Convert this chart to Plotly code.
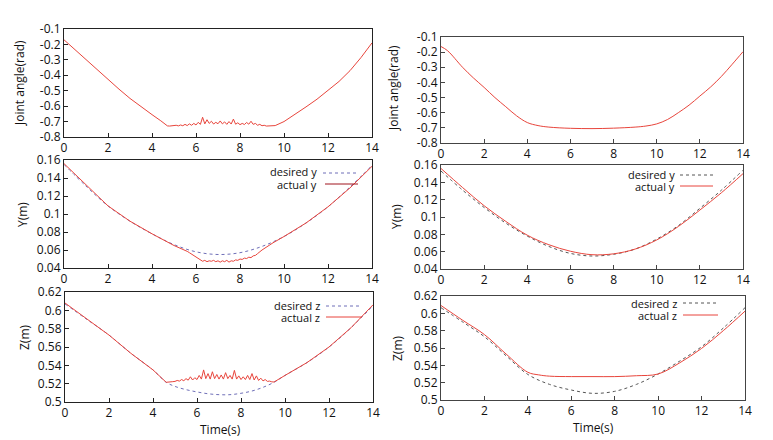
import plotly.graph_objects as go

# ---------------- data ----------------
# Left column (with vibration)
tL_ang = [0, 0.5, 1, 1.5, 2, 2.5, 3, 3.5, 4, 4.4, 4.7,
          4.8, 4.9, 5.0, 5.1, 5.2, 5.3, 5.4, 5.5, 5.6, 5.7, 5.8, 5.9, 6.0, 6.1, 6.2, 6.3, 6.4, 6.5,
          6.6, 6.7, 6.8, 6.9, 7.0, 7.1, 7.2, 7.3, 7.4, 7.5, 7.6, 7.7, 7.8, 7.9, 8.0, 8.1, 8.2,
          8.3, 8.4, 8.5, 8.6, 8.7, 8.8, 8.9, 9.0, 9.1, 9.2, 9.3, 9.4,
          9.6, 10, 10.5, 11, 11.5, 12, 12.5, 13, 13.5, 14]
L_ang = [-0.17, -0.235, -0.30, -0.365, -0.43, -0.49, -0.55, -0.605, -0.655, -0.695, -0.728,
         -0.729, -0.728, -0.729, -0.724, -0.728, -0.722, -0.727, -0.718, -0.726, -0.715, -0.724,
         -0.712, -0.722, -0.705, -0.718, -0.672, -0.715, -0.688, -0.712, -0.698, -0.716, -0.705,
         -0.714, -0.696, -0.715, -0.702, -0.718, -0.700, -0.716, -0.684, -0.717, -0.708, -0.720,
         -0.712, -0.719, -0.706, -0.717, -0.698, -0.718, -0.712, -0.724, -0.718, -0.727, -0.724,
         -0.729, -0.728, -0.729,
         -0.726, -0.70, -0.655, -0.605, -0.555, -0.50, -0.44, -0.37, -0.285, -0.19]

tL_ydes = [0, 1, 2, 3, 4, 5, 6, 7, 8, 9, 10, 11, 12, 13, 14]
L_ydes = [0.155, 0.131, 0.109, 0.092, 0.078, 0.066, 0.058, 0.055, 0.057, 0.064, 0.075, 0.090, 0.108, 0.130, 0.154]

tL_yact = [0, 1, 2, 3, 4, 5, 5.5,
           5.6, 5.7, 5.8, 5.9, 6.0, 6.1, 6.2, 6.3, 6.4, 6.5, 6.6, 6.7, 6.8, 6.9, 7.0, 7.1, 7.2,
           7.3, 7.4, 7.5, 7.6, 7.7, 7.8, 7.9, 8.0, 8.1, 8.2, 8.3, 8.4, 8.5, 8.6, 8.7, 8.8,
           9.0, 9.5, 10, 11, 12, 13, 14]
L_yact = [0.156, 0.132, 0.109, 0.092, 0.078, 0.065, 0.060,
          0.0585, 0.057, 0.0555, 0.054, 0.052, 0.0505, 0.049, 0.0475, 0.0485, 0.047, 0.048,
          0.0475, 0.0485, 0.047, 0.048, 0.0465, 0.048, 0.047, 0.0485, 0.0465, 0.048, 0.0475,
          0.049, 0.0485, 0.050, 0.0495, 0.051, 0.0505, 0.052, 0.0515, 0.0535, 0.054, 0.056,
          0.060, 0.068, 0.075, 0.090, 0.108, 0.129, 0.153]

tL_zdes = [0, 1, 2, 3, 4, 4.6, 5, 5.5, 6, 6.5, 7, 7.5, 8, 8.5, 9, 9.5, 10, 11, 12, 13, 14]
L_zdes = [0.607, 0.590, 0.573, 0.553, 0.535, 0.5215, 0.517, 0.5135, 0.511, 0.509, 0.508,
          0.508, 0.5095, 0.512, 0.516, 0.5215, 0.529, 0.543, 0.560, 0.581, 0.605]

tL_zact = [0, 1, 2, 3, 4, 4.6,
           4.7, 4.8, 4.9, 5.0, 5.1, 5.2, 5.3, 5.4, 5.5, 5.6, 5.7, 5.8, 5.9, 6.0, 6.1, 6.2, 6.3,
           6.4, 6.5, 6.6, 6.7, 6.8, 6.9, 7.0, 7.1, 7.2, 7.3, 7.4, 7.5, 7.6, 7.7, 7.8, 7.9, 8.0,
           8.1, 8.2, 8.3, 8.4, 8.5, 8.6, 8.7, 8.8, 8.9, 9.0, 9.1, 9.2, 9.3, 9.4,
           9.5, 10, 11, 12, 13, 14]
L_zact = [0.608, 0.590, 0.573, 0.553, 0.535, 0.5215,
          0.5215, 0.5218, 0.5222, 0.5225, 0.5235, 0.5228, 0.5245, 0.5232, 0.5255, 0.5238,
          0.5275, 0.5240, 0.5265, 0.5245, 0.5290, 0.5250, 0.5350, 0.5255, 0.5310, 0.5250,
          0.5330, 0.5255, 0.5300, 0.5250, 0.5295, 0.5250, 0.5320, 0.5255, 0.5290, 0.5250,
          0.5345, 0.5250, 0.5285, 0.5245, 0.5275, 0.5245, 0.5290, 0.5245, 0.5310, 0.5240,
          0.5285, 0.5235, 0.5260, 0.5230, 0.5245, 0.5225, 0.5228, 0.5220,
          0.5218, 0.529, 0.543, 0.560, 0.581, 0.606]

# Right column (smoothed)
tR_ang = [0, 0.3, 1, 1.5, 2, 2.5, 3, 3.5, 4, 4.5, 5, 6, 7, 8, 9, 9.5, 10, 10.5, 11, 11.5,
          12, 12.5, 13, 13.5, 14]
R_ang = [-0.163, -0.19, -0.30, -0.37, -0.433, -0.50, -0.56, -0.62, -0.665, -0.685, -0.695,
         -0.703, -0.705, -0.702, -0.695, -0.688, -0.674, -0.645, -0.60, -0.55, -0.49, -0.43,
         -0.36, -0.28, -0.197]

tR = [0, 1, 2, 3, 4, 5, 6, 7, 8, 9, 10, 11, 12, 13, 14]
R_ydes = [0.153, 0.131, 0.111, 0.093, 0.078, 0.066, 0.058, 0.055, 0.057, 0.063, 0.0745, 0.090, 0.110, 0.131, 0.154]
R_yact = [0.156, 0.134, 0.113, 0.095, 0.079, 0.068, 0.0605, 0.0565, 0.0575, 0.063, 0.0735, 0.089, 0.108, 0.128, 0.150]

R_zdes = [0.6065, 0.590, 0.573, 0.551, 0.5295, 0.518, 0.5115, 0.5077, 0.510, 0.518, 0.530, 0.545, 0.5615, 0.583, 0.6065]
tR_zact = [0, 1, 2, 3, 4, 4.5, 5, 6, 7, 8, 9, 10, 11, 12, 13, 14]
R_zact = [0.609, 0.592, 0.5755, 0.553, 0.532, 0.529, 0.5275, 0.527, 0.527, 0.527, 0.528, 0.530, 0.543, 0.5595, 0.580, 0.6025]

# ticks
x_ticks = [0, 2, 4, 6, 8, 10, 12, 14]
ang_ticks = [-0.8, -0.7, -0.6, -0.5, -0.4, -0.3, -0.2, -0.1]
ang_labels = ["-0.8", "-0.7", "-0.6", "-0.5", "-0.4", "-0.3", "-0.2", "-0.1"]
y_ticks = [0.04, 0.06, 0.08, 0.1, 0.12, 0.14, 0.16]
y_labels = ["0.04", "0.06", "0.08", "0.1", "0.12", "0.14", "0.16"]
z_ticks = [0.5, 0.52, 0.54, 0.56, 0.58, 0.6, 0.62]
z_labels = ["0.5", "0.52", "0.54", "0.56", "0.58", "0.6", "0.62"]

# ---------------- figure ----------------
W, H = 773, 440
RED = "#e8453c"
DARKRED = "#a0141e"
BLUEDASH = "#6f6fb8"
GRAYDOT = "#555555"
FONT = "Open Sans"

def px(x):
    return x / W

def py(y):
    return 1 - y / H

fig = go.Figure()

def line(x, y, ax, color, dash="solid", width=1.0, shape="linear"):
    fig.add_trace(go.Scatter(x=x, y=y, mode="lines", xaxis="x" + ax, yaxis="y" + ax,
                             line=dict(color=color, width=width, dash=dash, shape=shape),
                             showlegend=False, hoverinfo="skip"))

line(tL_ang, L_ang, "", RED)
line(tR_ang, R_ang, "2", RED, shape="spline")
line(tL_ydes, L_ydes, "3", BLUEDASH, dash="dot", shape="spline")
line(tL_yact, L_yact, "3", RED)
line(tR, R_ydes, "4", GRAYDOT, dash="dot", shape="spline")
line(tR, R_yact, "4", RED, shape="spline")
line(tL_zdes, L_zdes, "5", BLUEDASH, dash="dot", shape="spline")
line(tL_zact, L_zact, "5", RED)
line(tR, R_zdes, "6", GRAYDOT, dash="dot", shape="spline")
line(tR_zact, R_zact, "6", RED, shape="spline")

# panel pixel boxes: (left, right, top, bottom)
boxes = {
    "": (64, 372, 29, 137),
    "2": (441, 743, 37, 143),
    "3": (64, 372, 160, 268),
    "4": (441, 743, 165, 269),
    "5": (65, 373, 292, 402),
    "6": (441, 745, 296, 400),
}
yinfo = {
    "": (ang_ticks, ang_labels, [-0.8, -0.1]),
    "2": (ang_ticks, ang_labels, [-0.8, -0.1]),
    "3": (y_ticks, y_labels, [0.04, 0.16]),
    "4": (y_ticks, y_labels, [0.04, 0.16]),
    "5": (z_ticks, z_labels, [0.5, 0.62]),
    "6": (z_ticks, z_labels, [0.5, 0.62]),
}

layout = dict(template="none", width=W, height=H, autosize=False,
              margin=dict(l=0, r=0, t=0, b=0, pad=0),
              paper_bgcolor="white", plot_bgcolor="white",
              font=dict(family=FONT, size=12, color="#111"))

for k, (l, r, t, b) in boxes.items():
    tv, tt, rng = yinfo[k]
    axc = "#222" if k in ("", "3", "5") else "#444"
    layout["xaxis" + k] = dict(domain=[px(l), px(r)], range=[0, 14], tickvals=x_ticks,
                               ticks="inside", ticklen=4, tickcolor=axc, showgrid=False,
                               zeroline=False, showline=True, linecolor=axc, linewidth=1,
                               mirror=True, anchor="y" + k, automargin=False,
                               tickfont=dict(size=12, color="#111"))
    layout["yaxis" + k] = dict(domain=[py(b), py(t)], range=rng, tickvals=tv, ticktext=tt,
                               ticks="inside", ticklen=4, tickcolor=axc, showgrid=False,
                               zeroline=False, showline=True, linecolor=axc, linewidth=1,
                               mirror=True, anchor="x" + k, automargin=False,
                               tickfont=dict(size=12, color="#111"))

fig.update_layout(**layout)

ann = []
def text(x, y, s, angle=0, xanchor="center", size=12):
    ann.append(dict(x=px(x), y=py(y), xref="paper", yref="paper", text=s, showarrow=False,
                    textangle=angle, xanchor=xanchor, yanchor="middle", borderpad=0,
                    font=dict(family=FONT, size=size, color="#111")))

text(20, 83, "Joint angle(rad)", -90)
text(394, 88, "Joint angle(rad)", -90)
text(22, 215, "Y(m)", -90)
text(396, 217, "Y(m)", -90)
text(24, 337, "Z(m)", -90)
text(397, 348, "Z(m)", -90)
text(220, 429, "Time(s)")
text(593, 427, "Time(s)")

shapes = []
def sample(x0, x1, y, color, dash):
    shapes.append(dict(type="line", xref="paper", yref="paper", x0=px(x0), x1=px(x1),
                       y0=py(y), y1=py(y), line=dict(color=color, width=1, dash=dash)))

LS = 11
text(318, 172, "desired y", xanchor="right", size=LS)
text(318, 184, "actual y", xanchor="right", size=LS)
sample(323, 358, 173, BLUEDASH, "dot")
sample(325, 358, 184, DARKRED, "solid")

text(321, 305, "desired z", xanchor="right", size=LS)
text(321, 317, "actual z", xanchor="right", size=LS)
sample(326, 362, 306, BLUEDASH, "dot")
sample(326, 362, 317, RED, "solid")

text(676, 174, "desired y", xanchor="right", size=LS)
text(676, 186, "actual y", xanchor="right", size=LS)
sample(680, 713, 175, GRAYDOT, "dot")
sample(680, 713, 186, RED, "solid")

text(678, 303, "desired z", xanchor="right", size=LS)
text(678, 315, "actual z", xanchor="right", size=LS)
sample(683, 718, 303, GRAYDOT, "dot")
sample(683, 718, 315, RED, "solid")

fig.update_layout(annotations=ann, shapes=shapes)

fig.write_html("out.html", config={"displayModeBar": False},
               post_script="document.body.style.margin='0';")
